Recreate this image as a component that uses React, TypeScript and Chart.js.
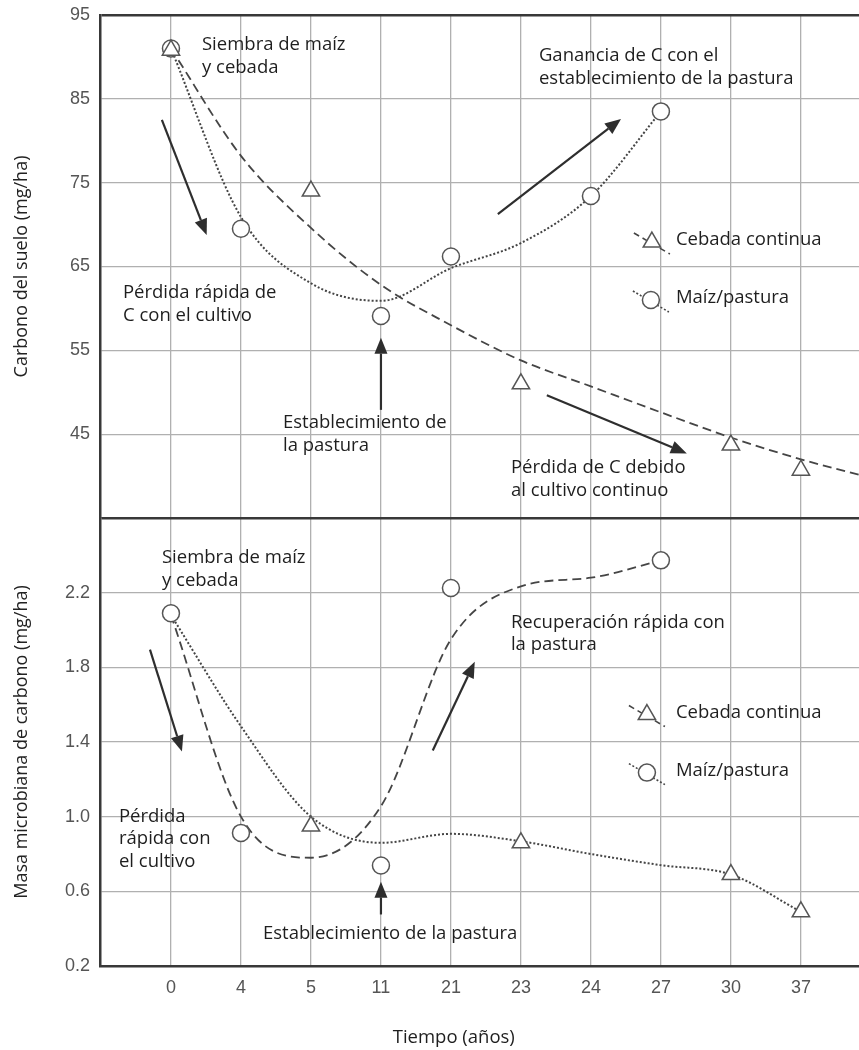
import { useEffect, useRef } from 'react';
import { Chart, registerables } from 'chart.js';

Chart.register(...registerables);

// ---------- data ----------
const xLabels = ['0', '4', '5', '11', '21', '23', '24', '27', '30', '37'];

// Top panel: soil carbon (mg/ha)
const soilTickValues = [45, 55, 65, 75, 85, 95];
const soilTickLabels = ['45', '55', '65', '75', '85', '95'];
const soilBarley = [90.8, null, 74.0, null, null, 51.0, null, null, 43.7, 40.7];
const soilMaize = [91.0, 69.5, null, 59.1, 66.2, null, 73.4, 83.5, null, null];
const soilBarleyFit = [91.0, 78.2, 69.6, 62.8, 58.0, 53.8, 50.7, 47.6, 44.6, 42.0, 39.8];
const soilMaizeFit = [91.0, 70.9, 63.0, 60.9, 64.8, 67.8, 73.4, 83.5];

// Bottom panel: microbial carbon mass (mg/ha)
const micTickValues = [0.2, 0.6, 1.0, 1.4, 1.8, 2.2, 2.6];
const micTickLabels = ['0.2', '0.6', '1.0', '1.4', '1.8', '2.2', ''];
const micBarley = [null, null, 0.95, null, null, 0.86, null, null, 0.69, 0.49];
const micMaize = [2.09, 0.913, null, 0.738, 2.225, null, null, 2.373, null, null];
const micBarleyFit = [2.08, 1.484, 1.0, 0.86, 0.908, 0.868, 0.80, 0.74, 0.69, 0.49];
const micMaizeFit = [2.08, 1.0, 0.78, 1.056, 1.95, 2.234, 2.28, 2.373];

const seriesNames = ['Cebada continua', 'Maíz/pastura'];

// Annotations (data coordinates: x = category index, y = axis value)
const notes = [
  { axis: 'yTop', x: 0.443, y: 91.42, lines: ['Siembra de maíz', 'y cebada'] },
  { axis: 'yTop', x: -0.686, y: 61.84, lines: ['Pérdida rápida de', 'C con el cultivo'] },
  { axis: 'yTop', x: 1.6, y: 46.33, lines: ['Establecimiento de', 'la pastura'] },
  { axis: 'yTop', x: 5.257, y: 90.11, lines: ['Ganancia de C con el', 'establecimiento de la pastura'] },
  { axis: 'yTop', x: 4.857, y: 40.96, lines: ['Pérdida de C debido', 'al cultivo continuo'] },
  { axis: 'yBot', x: -0.129, y: 2.387, lines: ['Siembra de maíz', 'y cebada'] },
  { axis: 'yBot', x: -0.743, y: 1.0, lines: ['Pérdida', 'rápida con', 'el cultivo'] },
  { axis: 'yBot', x: 1.314, y: 0.374, lines: ['Establecimiento de la pastura'] },
  { axis: 'yBot', x: 4.857, y: 2.039, lines: ['Recuperación rápida con', 'la pastura'] },
];

const arrows = [
  { axis: 'yTop', x1: -0.13, y1: 82.5, x2: 0.51, y2: 68.75 },
  { axis: 'yTop', x1: 3, y1: 47.9, x2: 3, y2: 56.5 },
  { axis: 'yTop', x1: 4.67, y1: 71.25, x2: 6.43, y2: 82.6 },
  { axis: 'yTop', x1: 5.37, y1: 49.65, x2: 7.37, y2: 42.7 },
  { axis: 'yBot', x1: -0.3, y1: 1.895, x2: 0.157, y2: 1.349 },
  { axis: 'yBot', x1: 3.74, y1: 1.354, x2: 4.34, y2: 1.83 },
  { axis: 'yBot', x1: 3, y1: 0.476, x2: 3, y2: 0.652 },
];

const legendItems = [
  { axis: 'yTop', x: 6.871, y: 67.92, tx: 7.214, style: 'triangle', name: seriesNames[0] },
  { axis: 'yTop', x: 6.857, y: 61.0, tx: 7.214, style: 'circle', name: seriesNames[1] },
  { axis: 'yBot', x: 6.8, y: 1.547, tx: 7.214, style: 'triangle', name: seriesNames[0] },
  { axis: 'yBot', x: 6.8, y: 1.236, tx: 7.214, style: 'circle', name: seriesNames[1] },
];

const xTitle = 'Tiempo (años)';
const xTitlePos = 4.04; // category-index position of the centred x title

// ---------- styling ----------
const TEXT_FONT = '"Open Sans", "Noto Sans", sans-serif';
const TICK_FONT = '"Liberation Sans", Arial, sans-serif';
const GRID = '#b0b0b0';
const FRAME = '#383838';
const LINE = '#454545';
const MARK = '#555';

const pts = (arr: (number | null)[]) =>
  arr.map((v, i) => (v == null ? null : { x: i, y: v })).filter((p) => p !== null) as { x: number; y: number }[];

function drawArrow(ctx: CanvasRenderingContext2D, x1: number, y1: number, x2: number, y2: number) {
  const ang = Math.atan2(y2 - y1, x2 - x1);
  const hl = 16;
  const hw = 6.5;
  const bx = x2 - hl * Math.cos(ang);
  const by = y2 - hl * Math.sin(ang);
  ctx.setLineDash([]);
  ctx.strokeStyle = '#2e2e2e';
  ctx.lineWidth = 2.2;
  ctx.beginPath();
  ctx.moveTo(x1, y1);
  ctx.lineTo(bx, by);
  ctx.stroke();
  ctx.fillStyle = '#2e2e2e';
  ctx.beginPath();
  ctx.moveTo(x2, y2);
  ctx.lineTo(bx + hw * Math.sin(ang), by - hw * Math.cos(ang));
  ctx.lineTo(bx - hw * Math.sin(ang), by + hw * Math.cos(ang));
  ctx.closePath();
  ctx.fill();
}

function drawMarker(ctx: CanvasRenderingContext2D, style: string, x: number, y: number) {
  ctx.setLineDash([]);
  ctx.fillStyle = '#fff';
  ctx.strokeStyle = MARK;
  ctx.lineWidth = 1.5;
  ctx.beginPath();
  if (style === 'triangle') {
    const r = 10;
    let a = -Math.PI / 2;
    ctx.moveTo(x + Math.cos(a) * r, y + Math.sin(a) * r);
    a += (2 * Math.PI) / 3;
    ctx.lineTo(x + Math.cos(a) * r, y + Math.sin(a) * r);
    a += (2 * Math.PI) / 3;
    ctx.lineTo(x + Math.cos(a) * r, y + Math.sin(a) * r);
    ctx.closePath();
  } else {
    ctx.arc(x, y, 8.5, 0, Math.PI * 2);
  }
  ctx.fill();
  ctx.stroke();
}

const decorPlugin = {
  id: 'decor',
  afterDatasetsDraw(chart: any) {
    const ctx: CanvasRenderingContext2D = chart.ctx;
    const xs = chart.scales.x;
    ctx.save();
    for (const a of arrows) {
      const ys = chart.scales[a.axis];
      drawArrow(ctx, xs.getPixelForValue(a.x1), ys.getPixelForValue(a.y1), xs.getPixelForValue(a.x2), ys.getPixelForValue(a.y2));
    }
    ctx.font = `18.5px ${TEXT_FONT}`;
    ctx.fillStyle = '#1e1e1e';
    ctx.textAlign = 'left';
    ctx.textBaseline = 'middle';
    for (const n of notes) {
      const ys = chart.scales[n.axis];
      const px = xs.getPixelForValue(n.x);
      const py = ys.getPixelForValue(n.y);
      n.lines.forEach((l, i) => ctx.fillText(l, px, py + i * 22.5));
    }
    for (const it of legendItems) {
      const ys = chart.scales[it.axis];
      const px = xs.getPixelForValue(it.x);
      const py = ys.getPixelForValue(it.y);
      ctx.strokeStyle = LINE;
      ctx.lineWidth = 1.6;
      ctx.setLineDash(it.style === 'triangle' ? [6, 4] : [2, 2]);
      ctx.beginPath();
      ctx.moveTo(px - 18, py - 9);
      ctx.lineTo(px + 18, py + 12);
      ctx.stroke();
      drawMarker(ctx, it.style, px, py);
      ctx.fillStyle = '#1e1e1e';
      ctx.fillText(it.name, xs.getPixelForValue(it.tx), py - 2);
    }
    ctx.textAlign = 'center';
    ctx.fillText(xTitle, xs.getPixelForValue(xTitlePos), 1038);
    ctx.restore();
  },
};

export default function App() {
  const ref = useRef<HTMLCanvasElement | null>(null);

  useEffect(() => {
    if (!ref.current) return;
    const lineBase = {
      pointRadius: 0,
      cubicInterpolationMode: 'monotone' as const,
      fill: false,
      borderColor: LINE,
    };
    const markBase = {
      showLine: false,
      borderColor: MARK,
      backgroundColor: '#fff',
      borderWidth: 1.5,
    };
    const yFit = (s: any) => {
      s.width = 100;
      s.paddingTop = 0;
      s.paddingBottom = 0;
    };
    const chart = new Chart(ref.current, {
      type: 'line',
      data: {
        datasets: [
          { ...markBase, label: seriesNames[0], data: pts(soilBarley), yAxisID: 'yTop', pointStyle: 'triangle', pointRadius: 10 },
          { ...markBase, label: seriesNames[1], data: pts(soilMaize), yAxisID: 'yTop', pointStyle: 'circle', pointRadius: 8.5 },
          { ...markBase, label: seriesNames[0], data: pts(micBarley), yAxisID: 'yBot', pointStyle: 'triangle', pointRadius: 10 },
          { ...markBase, label: seriesNames[1], data: pts(micMaize), yAxisID: 'yBot', pointStyle: 'circle', pointRadius: 8.5 },
          { ...lineBase, label: 'fit1', data: pts(soilBarleyFit), yAxisID: 'yTop', borderDash: [9, 5], borderWidth: 1.8 },
          { ...lineBase, label: 'fit2', data: pts(soilMaizeFit), yAxisID: 'yTop', borderDash: [2, 2], borderWidth: 2 },
          { ...lineBase, label: 'fit3', data: pts(micBarleyFit), yAxisID: 'yBot', borderDash: [2, 2], borderWidth: 2 },
          { ...lineBase, label: 'fit4', data: pts(micMaizeFit), yAxisID: 'yBot', borderDash: [9, 5], borderWidth: 1.8 },
        ],
      },
      options: {
        responsive: false,
        animation: false,
        events: [],
        layout: { autoPadding: false, padding: { top: 15, left: 0, right: 0, bottom: 0 } },
        plugins: { legend: { display: false }, tooltip: { enabled: false } },
        scales: {
          x: {
            type: 'linear',
            min: -1.014,
            max: 9.83,
            afterBuildTicks: (s: any) => {
              s.ticks = xLabels.map((_, i) => ({ value: i }));
            },
            afterFit: (s: any) => {
              s.height = 84;
              s.paddingLeft = 0;
              s.paddingRight = 0;
            },
            ticks: {
              callback: (v: any) => xLabels[v as number] ?? '',
              font: { family: TICK_FONT, size: 18 },
              color: '#555',
              padding: 11,
              maxRotation: 0,
              autoSkip: false,
            },
            grid: { color: GRID, lineWidth: 1.3, drawTicks: false },
            border: { color: FRAME, width: 2.5 },
          },
          yTop: {
            type: 'linear',
            position: 'left',
            stack: 'panels',
            stackWeight: 503,
            weight: 1,
            min: 35,
            max: 95,
            afterBuildTicks: (s: any) => {
              s.ticks = soilTickValues.map((v) => ({ value: v }));
            },
            afterFit: yFit,
            ticks: {
              callback: (v: any) => soilTickLabels[soilTickValues.indexOf(v)] ?? '',
              font: { family: TICK_FONT, size: 18 },
              color: '#555',
              padding: 10,
            },
            grid: {
              color: (c: any) => (c.tick && c.tick.value === 95 ? FRAME : GRID),
              lineWidth: (c: any) => (c.tick && c.tick.value === 95 ? 2.5 : 1.3),
              drawTicks: false,
            },
            border: { color: FRAME, width: 2.5 },
            title: {
              display: true,
              text: 'Carbono del suelo (mg/ha)',
              font: { family: TEXT_FONT, size: 18 },
              color: '#222',
              padding: { top: 11, bottom: 0 },
            },
          },
          yBot: {
            type: 'linear',
            position: 'left',
            stack: 'panels',
            stackWeight: 448,
            weight: 0,
            min: 0.2,
            max: 2.6,
            afterBuildTicks: (s: any) => {
              s.ticks = micTickValues.map((v) => ({ value: v }));
            },
            afterFit: yFit,
            ticks: {
              callback: (v: any) => micTickLabels[micTickValues.indexOf(v)] ?? '',
              font: { family: TICK_FONT, size: 18 },
              color: '#555',
              padding: 10,
            },
            grid: {
              color: (c: any) => (c.tick && c.tick.value === 2.6 ? FRAME : c.tick && c.tick.value === 0.2 ? 'rgba(0,0,0,0)' : GRID),
              lineWidth: (c: any) => (c.tick && c.tick.value === 2.6 ? 2.5 : 1.3),
              drawTicks: false,
            },
            border: { color: FRAME, width: 2.5 },
            title: {
              display: true,
              text: 'Masa microbiana de carbono (mg/ha)',
              font: { family: TEXT_FONT, size: 18 },
              color: '#222',
              padding: { top: 11, bottom: 0 },
            },
          },
        },
      } as any,
      plugins: [decorPlugin],
    });
    return () => chart.destroy();
  }, []);

  return (
    <div style={{ position: 'absolute', left: 0, top: 0, width: 859, height: 1050, background: '#fff' }}>
      <canvas ref={ref} width={859} height={1050} style={{ display: 'block', width: 859, height: 1050 }} />
    </div>
  );
}
